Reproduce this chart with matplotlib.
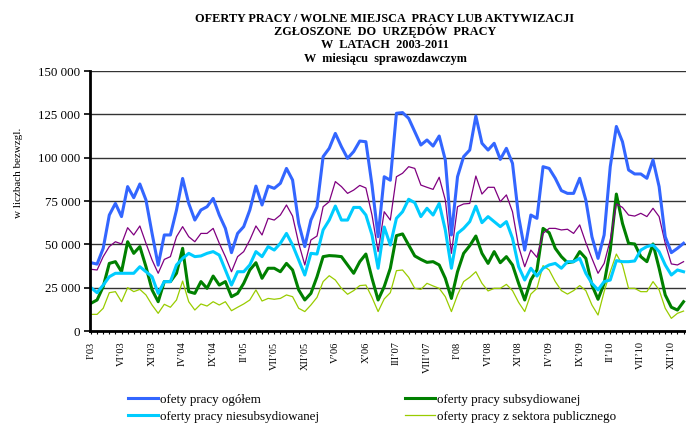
import matplotlib.pyplot as plt
import numpy as np
from matplotlib.lines import Line2D
from matplotlib.ticker import FuncFormatter

plt.rcParams['font.family'] = 'Liberation Serif'

# miesiace I'03 .. II'11
etykiety = ["I’03", "VI’03", "XI’03", "IV’04", "IX’04", "II’05", "VII’05", "XII’05",
            "V’06", "X’06", "III’07", "VIII’07", "I’08", "VI’08", "XI’08", "IV’09",
            "IX’09", "II’10", "VII’10", "XII’10"]

ogolem = [39400, 38600, 47700, 66900, 73600, 66000, 83300, 76900, 84800, 75600,
          56300, 38000, 55400, 55400, 69800, 88000, 73600, 64000, 69800, 71700,
          76500, 66900, 59200, 45200, 56300, 60200, 69800, 83600, 72700, 83600,
          82300, 85200, 93800, 87100, 62100, 48700, 64000, 71700, 100600, 105400,
          114000, 106300, 99600, 103500, 109600, 109200, 84200, 54400, 89000, 87000,
          125600, 126000, 122700, 115000, 107300, 110200, 106700, 112500, 98700, 55400,
          89000, 100600, 104400, 124000, 108300, 104400, 108300, 99000, 105400, 96700,
          66000, 46700, 66900, 65000, 94800, 93800, 88100, 81000, 79400, 79400,
          88100, 75600, 54400, 41900, 55400, 94800, 118000, 109200, 92900, 90600,
          90600, 88100, 98700, 83300, 54400, 45200, 47700, 50600]

fiolet = [35600, 35200, 42900, 48700, 51500, 50200, 59600, 55400, 60600, 50600,
          41000, 33300, 41300, 42900, 54400, 60200, 54400, 51500, 56300, 56300,
          59200, 50600, 42900, 34200, 42900, 45800, 52500, 60600, 55400, 65000,
          64000, 66900, 72700, 66300, 50600, 38100, 52500, 54800, 71700, 74600,
          86200, 83300, 79400, 81300, 84000, 82500, 66900, 45800, 68800, 64000,
          89000, 91000, 94800, 93800, 84200, 82900, 81700, 88700, 75600, 44800,
          71700, 73300, 73600, 89400, 79000, 82900, 82900, 74600, 78500, 68800,
          48700, 37100, 46700, 42500, 56300, 59200, 59200, 58300, 58700, 56300,
          61200, 51000, 41900, 33300, 39000, 52500, 73300, 71300, 66900, 66300,
          67900, 66000, 70800, 66000, 50600, 38700, 38100, 40000]

niesubsyd = [25000, 22100, 26500, 31300, 33300, 33300, 33300, 33300, 37100, 34200,
             31300, 21700, 28500, 28500, 38100, 41900, 44800, 42900, 43300, 44800,
             45800, 43800, 35200, 26500, 34200, 34200, 38100, 45800, 42900, 48700,
             46700, 50600, 56300, 49600, 41000, 32300, 44800, 44400, 58300, 64000,
             72100, 64000, 64000, 71300, 71300, 66900, 55400, 36200, 60000, 49600,
             65000, 68800, 76000, 74000, 66000, 70800, 66900, 73600, 58300, 36200,
             56300, 59200, 63100, 72000, 62500, 66000, 63100, 60200, 63100, 53500,
             37100, 29400, 36200, 31700, 36200, 38100, 39000, 36200, 40000, 40000,
             41900, 33300, 27500, 23700, 28500, 29400, 40600, 40000, 40000, 40400,
             46700, 48700, 49600, 45800, 38100, 32300, 35200, 34200]

subsyd = [16000, 17900, 25600, 39000, 40000, 34200, 51500, 44800, 48700, 37100,
          23700, 16900, 28500, 28500, 33300, 47700, 22700, 21700, 28500, 24600,
          31700, 26500, 28500, 19800, 21700, 27500, 35200, 39400, 30400, 36200,
          36200, 34200, 39000, 35200, 23700, 17900, 21700, 31300, 42900, 43500,
          43300, 42900, 38100, 33300, 40000, 44400, 30400, 17900, 25600, 36200,
          55000, 56000, 49600, 43300, 41300, 39600, 40000, 38100, 30400, 18800,
          34200, 44800, 49200, 54800, 44800, 39000, 45800, 39400, 42900, 38100,
          27500, 17900, 29400, 35200, 59200, 56700, 47700, 42900, 39400, 40000,
          45800, 41900, 26500, 18300, 27500, 46700, 79000, 62100, 50600, 50200,
          42900, 40000, 50200, 36200, 20800, 13700, 12100, 16900]

sektor = [9600, 9600, 13100, 22100, 22700, 16900, 25000, 22700, 24000, 20800,
          15000, 10200, 15400, 13700, 17900, 28800, 16900, 12100, 15600, 14400,
          16900, 15000, 16900, 11700, 13700, 15600, 17900, 23700, 17300, 18800,
          18300, 18800, 20800, 19800, 13100, 11200, 15000, 19400, 28500, 31900,
          29400, 24600, 21200, 23300, 26200, 26500, 19400, 11200, 18500, 22100,
          34800, 35200, 31000, 24600, 24000, 27500, 26000, 24600, 19800, 11200,
          20800, 28500, 31000, 34200, 27500, 23100, 24600, 24600, 26900, 23300,
          16500, 11200, 21300, 24600, 37700, 35200, 28500, 23300, 21300, 23300,
          26200, 23300, 15000, 9200, 22700, 34200, 44400, 38100, 24600, 24600,
          22700, 22700, 28500, 23700, 13100, 7300, 10200, 11500]

fig = plt.figure(figsize=(6.86, 4.23), dpi=100)
ax = fig.add_axes([90/686, 92/423, 596/686, 260/423])

x = np.arange(len(ogolem))
ax.plot(x, sektor, color='#99CC00', lw=0.9, solid_joinstyle='round')
ax.plot(x, subsyd, color='#008000', lw=2.2, solid_joinstyle='round')
ax.plot(x, niesubsyd, color='#00CCFF', lw=2.2, solid_joinstyle='round')
ax.plot(x, fiolet, color='#800080', lw=0.9, solid_joinstyle='round')
ax.plot(x, ogolem, color='#3366FF', lw=2.2, solid_joinstyle='round')

ax.set_xlim(-0.16, 97.4)
ax.set_ylim(0, 150000)
ax.set_yticks(np.arange(0, 150001, 25000))
ax.yaxis.set_major_formatter(FuncFormatter(lambda v, p: f"{int(v):,}".replace(",", " ")))
ax.yaxis.grid(True, color='#333333', lw=1)
ax.set_axisbelow(True)

ax.set_xticks(np.arange(0, 5 * len(etykiety), 5))
ax.set_xticklabels(etykiety, rotation=90, fontsize=7.5)
ax.set_xticks(x, minor=True)
ax.tick_params(axis='x', which='both', length=2.5, width=0.8, pad=5, direction='out')
ax.tick_params(axis='y', length=4, width=1.2, labelsize=9.3, pad=3)

for s in ['top', 'right']:
    ax.spines[s].set_visible(False)
for s in ['left', 'bottom']:
    ax.spines[s].set_linewidth(2.0)
    ax.spines[s].set_color('black')

fig.text(19/686, 1 - 173/423, "w liczbach bezwzgl.", rotation=90, fontsize=8,
         ha='center', va='center')

tytul = ["OFERTY PRACY / WOLNE MIEJSCA  PRACY LUB AKTYWIZACJI",
         "ZGŁOSZONE  DO  URZĘDÓW  PRACY",
         "W  LATACH  2003-2011",
         "W  miesiącu  sprawozdawczym"]
for i, t in enumerate(tytul):
    fig.text(385/686, 1 - (21.5 + 13.4 * i)/423, t, fontsize=8.8, fontweight='bold',
             ha='center', va='baseline')

h = [Line2D([], [], color='#3366FF', lw=2.2),
     Line2D([], [], color='#00CCFF', lw=2.2),
     Line2D([], [], color='#008000', lw=2.2),
     Line2D([], [], color='#99CC00', lw=0.9)]
lab = ["ofety pracy ogółem", "oferty pracy niesubsydiowanej",
       "oferty pracy subsydiowanej", "oferty pracy z sektora publicznego"]
kw = dict(loc='upper left', frameon=False, fontsize=9.4, handlelength=2.3,
          handletextpad=0.15, borderpad=0, borderaxespad=0, labelspacing=0.4)
fig.legend(h[:2], lab[:2], bbox_to_anchor=(128/686, 1 - 393.5/423), **kw)
fig.legend(h[2:], lab[2:], bbox_to_anchor=(405/686, 1 - 393.5/423), **kw)

fig.savefig('out.png', dpi=100)
